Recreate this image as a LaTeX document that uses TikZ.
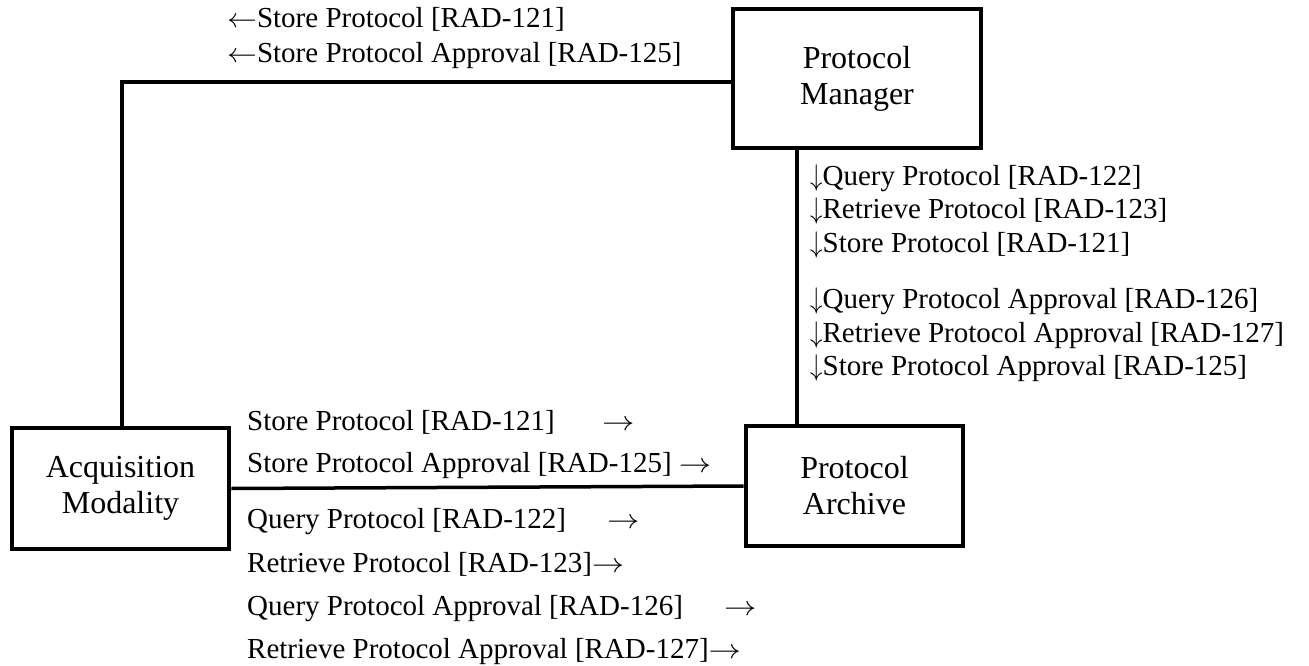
\documentclass[tikz,border=0pt]{standalone}
\usepackage{fontspec}
\usepackage{graphicx}
\setmainfont{Liberation Serif}
\newcommand{\ra}{\scalebox{1.3}[1.1]{$\rightarrow$}}
\newcommand{\la}{\scalebox{1.2}[1.1]{$\leftarrow$}}
\newcommand{\da}{\scalebox{1.0}[1.2]{$\downarrow$}}
\begin{document}
\begin{tikzpicture}[x=1pt,y=-1pt,
  box/.style={draw, line width=4.8pt, inner sep=0pt, align=center,
    font=\fontsize{32}{36}\selectfont},
  conn/.style={line width=3.5pt},
  lbl/.style={anchor=base west, inner sep=0pt, font=\fontsize{29}{35}\selectfont}]
\useasboundingbox (0,0) rectangle (1309,666);
% boxes
\node[box, minimum width=248pt, minimum height=139pt] (PM) at (857,78.5) {Protocol\\Manager};
\node[box, minimum width=217pt, minimum height=120pt] (PA) at (854.5,486) {Protocol\\Archive};
\node[box, minimum width=217pt, minimum height=121pt] (AM) at (120.5,488.5) {Acquisition\\Modality};
% connectors
\coordinate (vx) at (797,0);
\coordinate (corner) at (122,82);
\draw[conn] (AM.north -| corner) -- (corner) -- (corner -| PM.west);
\draw[conn] (PM.south -| vx) -- (PA.north -| vx);
\draw[conn] (AM.east) -- (PA.west);
% top labels
\node[lbl] (t1) at (227,28) {\la Store Protocol [RAD-121]};
\node[lbl] (t2) at (227,63) {\la Store Protocol Approval [RAD-125]};
% right labels
\node[lbl] (r1) at (810,185) {\da Query Protocol [RAD-122]};
\node[lbl] (r2) at (810,218) {\da Retrieve Protocol [RAD-123]};
\node[lbl] (r3) at (810,252) {\da Store Protocol [RAD-121]};
\node[lbl] (r4) at (810,308) {\da Query Protocol Approval [RAD-126]};
\node[lbl] (r5) at (810,342) {\da Retrieve Protocol Approval [RAD-127]};
\node[lbl] (r6) at (810,375) {\da Store Protocol Approval [RAD-125]};
% bottom labels
\node[lbl] (b1) at (247,430) {\makebox[355pt][l]{Store Protocol [RAD-121]}\ra};
\node[lbl] (b2) at (247,472) {Store Protocol Approval [RAD-125] \ra};
\node[lbl] (b3) at (247,528) {\makebox[360pt][l]{Query Protocol [RAD-122]}\ra};
\node[lbl] (b4) at (247,572) {Retrieve Protocol [RAD-123]\ra};
\node[lbl] (b5) at (247,615) {\makebox[477pt][l]{Query Protocol Approval [RAD-126]}\ra};
\node[lbl] (b6) at (247,658) {Retrieve Protocol Approval [RAD-127]\ra};
\end{tikzpicture}
\end{document}
